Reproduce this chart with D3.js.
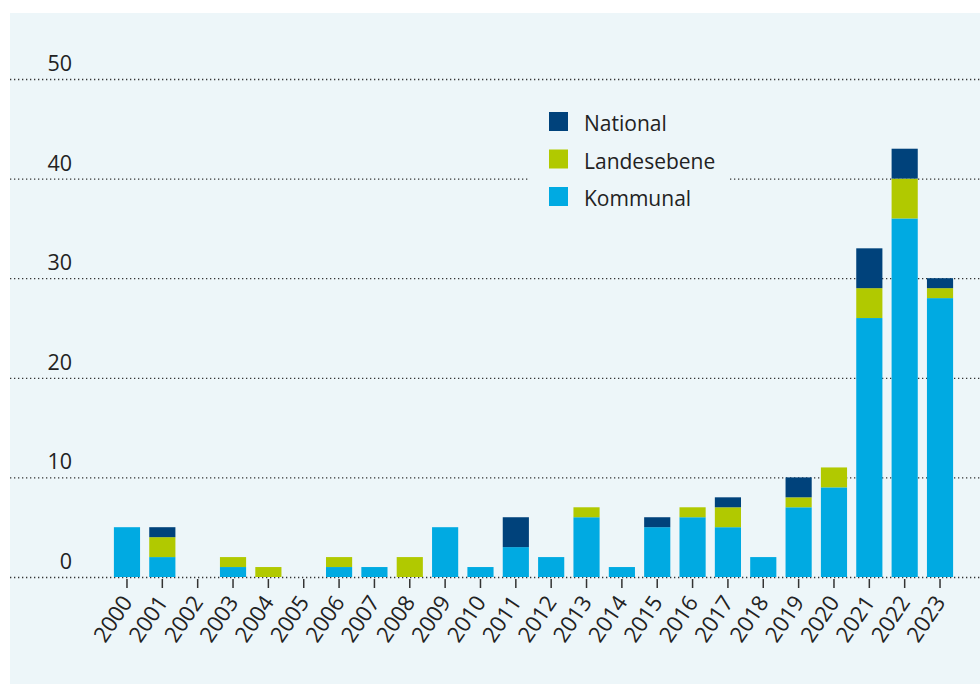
<!DOCTYPE html>
<html><head><meta charset="utf-8">
<script src="https://cdn.jsdelivr.net/npm/d3@7"></script>
<style>html,body{margin:0;padding:0;background:#fff;}svg{display:block;}</style>
</head><body>
<svg id="c" width="980" height="684"></svg>
<script>
const years = ["2000","2001","2002","2003","2004","2005","2006","2007","2008","2009","2010","2011","2012","2013","2014","2015","2016","2017","2018","2019","2020","2021","2022","2023"];
const kommunal =    [5,2,0,1,0,0,1,1,0,5,1,3,2,6,1,5,6,5,2,7,9,26,36,28];
const landesebene = [0,2,0,1,1,0,1,0,2,0,0,0,0,1,0,0,1,2,0,1,2,3,4,1];
const national =    [0,1,0,0,0,0,0,0,0,0,0,3,0,0,0,1,0,1,0,2,0,4,3,1];
const yTicks = [0,10,20,30,40,50];
const seriesNames = ["Kommunal","Landesebene","National"];
const colors = {Kommunal:"#00aae2", Landesebene:"#b1c900", National:"#00427b"};
const legendOrder = ["National","Landesebene","Kommunal"];

const svg = d3.select("#c");
const font = "'Open Sans', sans-serif";
svg.append("rect").attr("x",10).attr("y",13).attr("width",970).attr("height",671).attr("fill","#edf6f9");

const x = d3.scaleBand().domain(years).range([109.3,957.7]).paddingInner(0.26).paddingOuter(0.13);
const y = d3.scaleLinear().domain([0,50]).range([577,79]);

// gridlines
svg.append("g").selectAll("line").data(yTicks).join("line")
  .attr("x1",10).attr("x2",980).attr("y1",d=>y(d)+0.5).attr("y2",d=>y(d)+0.5)
  .attr("stroke","#333").attr("stroke-width",1.3).attr("stroke-dasharray","1.3,2.7");

svg.append("g").selectAll("text").data(yTicks).join("text")
  .attr("x",72).attr("y",d=>y(d)-8).attr("text-anchor","end")
  .attr("font-family",font).attr("font-size",21.5).attr("fill","#222").text(d=>d);

// stacked bars
const table = years.map((yr,i)=>({year:yr, Kommunal:kommunal[i], Landesebene:landesebene[i], National:national[i]}));
const stack = d3.stack().keys(seriesNames)(table);
svg.append("g").selectAll("g").data(stack).join("g").attr("fill",d=>colors[d.key])
  .selectAll("rect").data(d=>d).join("rect")
  .attr("x",d=>x(d.data.year)).attr("width",x.bandwidth())
  .attr("y",d=>y(d[1])).attr("height",d=>y(d[0])-y(d[1]));

// x axis ticks
const xa = svg.append("g");
xa.selectAll("line").data(years).join("line")
  .attr("x1",d=>x(d)+x.bandwidth()/2).attr("x2",d=>x(d)+x.bandwidth()/2)
  .attr("y1",579).attr("y2",588).attr("stroke","#333").attr("stroke-width",1.5);
xa.selectAll("text").data(years).join("text")
  .attr("transform",d=>`translate(${x(d)+x.bandwidth()/2},${598}) rotate(-56)`)
  .attr("text-anchor","end").attr("dy","0.35em")
  .attr("font-family",font).attr("font-size",22).attr("fill","#222").text(d=>d);

// legend
const lg = svg.append("g");
lg.append("rect").attr("x",530).attr("y",100).attr("width",198).attr("height",115).attr("fill","#edf6f9");
legendOrder.forEach((k,i)=>{
  const yy = 112 + i*37.5;
  lg.append("rect").attr("x",549).attr("y",yy).attr("width",19).attr("height",19).attr("fill",colors[k]);
  lg.append("text").attr("x",584).attr("y",yy+19).attr("font-family",font).attr("font-size",21).attr("fill","#222").text(k);
});
</script>
</body></html>
